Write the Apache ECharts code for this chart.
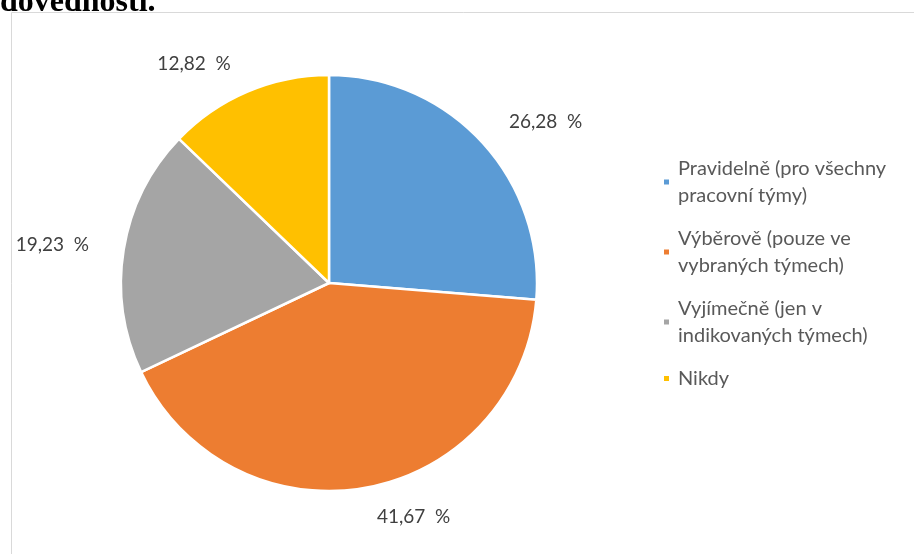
<!DOCTYPE html>
<html>
<head>
<meta charset="utf-8">
<style>
  html, body { margin: 0; padding: 0; background: #ffffff; }
  #chart { width: 914px; height: 554px; }
</style>
<script src="https://cdn.jsdelivr.net/npm/echarts@6/dist/echarts.min.js"></script>
</head>
<body>
<div id="chart"></div>
<script>
// Category names (legend text, with manual line breaks)
const categories = [
  'Pravidelně (pro všechny\npracovní týmy)',
  'Výběrově (pouze ve\nvybraných týmech)',
  'Vyjímečně (jen v\nindikovaných týmech)',
  'Nikdy'
];
// Share of responses in percent
const shares = [26.28, 41.67, 19.23, 12.82];
// Slice colours
const sliceColors = ['#5B9BD5', '#ED7D31', '#A5A5A5', '#FFC000'];
const headingText = 'dovednosti.';

const chart = echarts.init(document.getElementById('chart'));

const fmtPct = v => v.toFixed(2).replace('.', ',') + '  %';

chart.setOption({
  backgroundColor: '#ffffff',
  animation: false,
  graphic: [
    {
      type: 'rect',
      shape: { x: 11.5, y: 12.5, width: 940, height: 600 },
      style: { fill: 'none', stroke: '#d9d9d9', lineWidth: 1 },
      silent: true
    },
    {
      type: 'text',
      style: {
        x: 0, y: -13,
        text: headingText,
        font: 'bold 32px "Liberation Serif", "DejaVu Serif", serif',
        fill: '#000000'
      },
      silent: true
    }
  ],
  legend: {
    orient: 'vertical',
    left: 662,
    top: 155,
    padding: 0,
    icon: 'rect',
    itemWidth: 7,
    itemHeight: 7,
    itemGap: 16,
    selectedMode: false,
    textStyle: {
      fontFamily: 'Lato, "Open Sans", sans-serif',
      fontSize: 20,
      lineHeight: 27,
      color: '#595959',
      padding: [0, 0, 0, 3]
    },
    data: categories
  },
  series: [{
    type: 'pie',
    center: [329, 283],
    radius: [0, 208],
    startAngle: 90,
    clockwise: true,
    avoidLabelOverlap: false,
    color: sliceColors,
    itemStyle: { borderColor: '#ffffff', borderWidth: 2.5 },
    label: {
      show: true,
      position: 'outside',
      formatter: p => fmtPct(p.value),
      fontFamily: 'Lato, "Open Sans", sans-serif',
      fontSize: 19,
      color: '#404040'
    },
    labelLine: { show: false, length: 30, length2: 0 },
    emphasis: { disabled: true },
    data: categories.map((name, i) => ({ name: name, value: shares[i] }))
  }]
});
</script>
</body>
</html>
